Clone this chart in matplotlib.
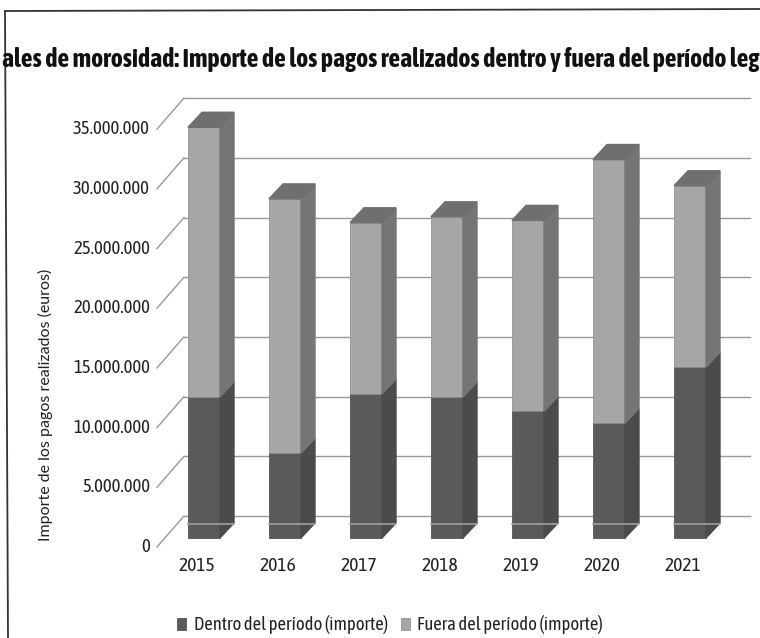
#!/usr/bin/env python3

import matplotlib
matplotlib.use('Agg')
import matplotlib.pyplot as plt
from matplotlib.patches import Polygon

years = ['2015', '2016', '2017', '2018', '2019', '2020', '2021']
# millions of euros
dentro = [11.8, 7.1, 12.05, 11.8, 10.6, 9.6, 14.3]
total = [34.4, 28.4, 26.4, 26.9, 26.6, 31.7, 29.5]
fuera = [t - d for t, d in zip(total, dentro)]
tick_values = [0, 5, 10, 15, 20, 25, 30, 35]
tick_labels = ['0', '5.000.000', '10.000.000', '15.000.000', '20.000.000',
               '25.000.000', '30.000.000', '35.000.000']

title = 'ales de morosidad: Importe de los pagos realizados dentro y fuera del período leg'
ylabel = 'Importe de los pagos realizados (euros)'

PX_X = 81.0      # pixels per category
PX_Y = 11.94     # pixels per million
X0 = 204.0       # pixel of the first bar centre
Y0 = 538.0       # pixel of the bar base
BAR_W = 32 / PX_X
DEPTH_X = 14 / PX_X
DEPTH_Y = 15 / PX_Y
BACK_Y = 22 / PX_Y

DARK, DARK_SIDE = '#5a5a5a', '#4b4b4b'
LIGHT, LIGHT_SIDE, TOP = '#a6a6a6', '#757575', '#6f6f6f'

plt.rcParams['font.family'] = ['Asap Condensed', 'Carlito', 'Lato', 'DejaVu Sans']

fig = plt.figure(figsize=(7.6, 6.38), dpi=100)
ax = fig.add_axes([0, 0, 1, 1])
ax.set_xlim(-X0 / PX_X, (760 - X0) / PX_X)
ax.set_ylim((Y0 - 638) / PX_Y, Y0 / PX_Y)
ax.axis('off')


def px(x):
    return (x - X0) / PX_X


def py(y):
    return (Y0 - y) / PX_Y


# frame of the scanned page
ax.plot([px(5), px(8)], [py(11), py(638)], color='#333333', lw=1.3)
ax.plot([px(5), px(760)], [py(11), py(9)], color='#333333', lw=1.3)

# back wall gridlines and the slanted ticks
for v, lab in zip(tick_values, tick_labels):
    ax.plot([px(184), px(750)], [v + BACK_Y, v + BACK_Y], color='#999999', lw=1.0, zorder=1)
    ax.plot([px(157), px(184)], [v - 9 / PX_Y, v + BACK_Y], color='#999999', lw=1.0, zorder=1)
    ax.text(px(150), v - 9 / PX_Y, lab, ha='right', va='center', fontsize=13.5, color='#222222')

xs = list(range(len(years)))
ax.bar(xs, dentro, BAR_W, color=DARK, edgecolor='#444444', lw=0.5, zorder=3,
       label='Dentro del período (importe)')
ax.bar(xs, fuera, BAR_W, bottom=dentro, color=LIGHT, edgecolor='#8a8a8a', lw=0.5, zorder=3,
       label='Fuera del período (importe)')

for i in xs:
    r = i + BAR_W / 2
    l = i - BAR_W / 2
    d, t = dentro[i], total[i]
    ax.add_patch(Polygon([(r, 0), (r + DEPTH_X, DEPTH_Y), (r + DEPTH_X, d + DEPTH_Y), (r, d)],
                         color=DARK_SIDE, zorder=3))
    ax.add_patch(Polygon([(r, d), (r + DEPTH_X, d + DEPTH_Y), (r + DEPTH_X, t + DEPTH_Y), (r, t)],
                         color=LIGHT_SIDE, zorder=3))
    ax.add_patch(Polygon([(l, t), (l + DEPTH_X, t + DEPTH_Y), (r + DEPTH_X, t + DEPTH_Y), (r, t)],
                         color=TOP, zorder=3))
    # pale scan streak across the base
    ax.plot([l, r + DEPTH_X], [py(524), py(524)], color='#a0a0a0', lw=1.2, zorder=4)
    ax.text(i - 7 / PX_X, py(566), years[i], ha='center', va='center', fontsize=14, color='#222222')

ax.text(px(2), py(59), title, ha='left', va='center', fontsize=18.5, fontweight='bold', color='#111111')
ax.text(px(45), py(405), ylabel, rotation=90, ha='center', va='center', fontsize=11.5,
        color='#222222', family=['Lato', 'DejaVu Sans'])

ax.legend(loc='center left', bbox_to_anchor=(177 / 760, 1 - 625 / 638), ncol=2, frameon=False,
          fontsize=13.3, handlelength=0.5, handleheight=0.6, handletextpad=0.4, columnspacing=0.7,
          labelcolor='#222222', borderpad=0, borderaxespad=0)

fig.savefig('out.png', dpi=100, facecolor='white')
